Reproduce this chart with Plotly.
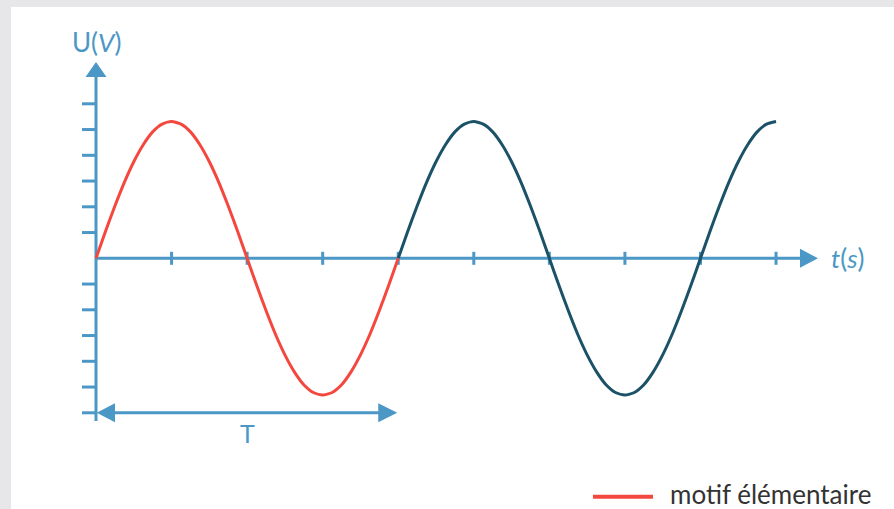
import plotly.graph_objects as go

# ---- data (t and U in tick units) ----
t_motif = [0, 0.125, 0.25, 0.375, 0.5, 0.625, 0.75, 0.875, 1, 1.125, 1.25, 1.375, 1.5, 1.625, 1.75, 1.875,
           2, 2.125, 2.25, 2.375, 2.5, 2.625, 2.75, 2.875, 3, 3.125, 3.25, 3.375, 3.5, 3.625, 3.75, 3.875, 4]
u_motif = [0, 1.04, 2.03, 2.95, 3.75, 4.41, 4.91, 5.21, 5.31, 5.21, 4.91, 4.41, 3.75, 2.95, 2.03, 1.04,
           0, -1.04, -2.03, -2.95, -3.75, -4.41, -4.91, -5.21, -5.31, -5.21, -4.91, -4.41, -3.75, -2.95, -2.03, -1.04, 0]
t_rest = [4, 4.125, 4.25, 4.375, 4.5, 4.625, 4.75, 4.875, 5, 5.125, 5.25, 5.375, 5.5, 5.625, 5.75, 5.875,
          6, 6.125, 6.25, 6.375, 6.5, 6.625, 6.75, 6.875, 7, 7.125, 7.25, 7.375, 7.5, 7.625, 7.75, 7.875,
          8, 8.125, 8.25, 8.375, 8.5, 8.625, 8.75, 8.875, 9]
u_rest = [0, 1.04, 2.03, 2.95, 3.75, 4.41, 4.91, 5.21, 5.31, 5.21, 4.91, 4.41, 3.75, 2.95, 2.03, 1.04,
          0, -1.04, -2.03, -2.95, -3.75, -4.41, -4.91, -5.21, -5.31, -5.21, -4.91, -4.41, -3.75, -2.95, -2.03, -1.04,
          0, 1.04, 2.03, 2.95, 3.75, 4.41, 4.91, 5.21, 5.31]
x_ticks = [1, 2, 3, 4, 5, 6, 7, 8, 9]
y_ticks = [-6, -5, -4, -3, -2, -1, 1, 2, 3, 4, 5, 6]
period = 4
legend_label = "motif élémentaire"

W, H = 894, 509
PX_T = 75.56   # px per t unit
PX_U = 25.75   # px per u unit
X0, Y0 = 96, 258.3  # pixel origin
x_range = [-X0 / PX_T, (W - X0) / PX_T]
y_range = [(Y0 - H) / PX_U, Y0 / PX_U]

def tx(px):
    return px / PX_T

def uy(px):
    return px / PX_U

AXIS = "#4b97c5"
RED = "#f4483f"
TEAL = "#1b5267"
FONT = "Lato"

fig = go.Figure()
fig.add_trace(go.Scatter(x=t_rest, y=u_rest, mode="lines",
                         line=dict(color=TEAL, width=3, shape="spline", smoothing=0.6),
                         showlegend=False, hoverinfo="skip"))
fig.add_trace(go.Scatter(x=t_motif, y=u_motif, mode="lines",
                         line=dict(color=RED, width=3, shape="spline", smoothing=0.6),
                         name=legend_label, showlegend=False, hoverinfo="skip"))

shapes = []
# background panel
shapes.append(dict(type="rect", xref="paper", yref="paper", x0=11 / W, x1=1.01, y0=-0.01, y1=1 - 7 / H,
                   fillcolor="white", line=dict(width=0), layer="below"))
# y axis
y_top_base = uy(Y0 - 77)
y_tip = uy(Y0 - 62)
y_bottom = -uy(421 - Y0)
shapes.append(dict(type="line", x0=0, x1=0, y0=y_bottom, y1=y_top_base, line=dict(color=AXIS, width=3), layer="below"))
shapes.append(dict(type="path", path=f"M {-tx(10.5)},{y_top_base} L 0,{y_tip} L {tx(10.5)},{y_top_base} Z",
                   fillcolor=AXIS, line=dict(width=0), layer="below"))
# x axis
x_base = tx(800 - X0)
x_tip = tx(818 - X0)
shapes.append(dict(type="line", x0=0, x1=x_base, y0=0, y1=0, line=dict(color=AXIS, width=3), layer="below"))
shapes.append(dict(type="path", path=f"M {x_base},{uy(9.5)} L {x_tip},0 L {x_base},{-uy(9.5)} Z",
                   fillcolor=AXIS, line=dict(width=0), layer="below"))
# ticks
for v in y_ticks:
    shapes.append(dict(type="line", x0=-tx(14), x1=0, y0=v, y1=v, line=dict(color=AXIS, width=3), layer="below"))
for v in x_ticks:
    shapes.append(dict(type="line", x0=v, x1=v, y0=-uy(6.5), y1=uy(6.5), line=dict(color=AXIS, width=3), layer="below"))
# period arrow
yT = -6
shapes.append(dict(type="line", x0=tx(8), x1=period - tx(8), y0=yT, y1=yT, line=dict(color=AXIS, width=3), layer="below"))
shapes.append(dict(type="path", path=f"M {tx(0.7)},{yT} L {tx(19)},{yT + uy(9.5)} L {tx(19)},{yT - uy(9.5)} Z",
                   fillcolor=AXIS, line=dict(width=0), layer="below"))
shapes.append(dict(type="path",
                   path=f"M {period - tx(1)},{yT} L {period - tx(20)},{yT + uy(9.5)} L {period - tx(20)},{yT - uy(9.5)} Z",
                   fillcolor=AXIS, line=dict(width=0), layer="below"))
# legend sample line
leg_y = uy(Y0 - 496.7)
shapes.append(dict(type="line", x0=tx(593 - X0), x1=tx(653 - X0), y0=leg_y, y1=leg_y,
                   line=dict(color=RED, width=4)))

annotations = [
    dict(x=0, y=uy(Y0 - 42), text="U(<i>V</i>)", showarrow=False, font=dict(family=FONT, size=26, color=AXIS),
         xanchor="center", yanchor="middle"),
    dict(x=tx(829 - X0), y=0, text="<i>t</i>(<i>s</i>)", showarrow=False, font=dict(family=FONT, size=26, color=AXIS),
         xanchor="left", yanchor="middle"),
    dict(x=period / 2, y=yT - uy(20), text="T", showarrow=False, font=dict(family=FONT, size=25, color=AXIS),
         xanchor="center", yanchor="middle"),
    dict(x=tx(668 - X0), y=uy(Y0 - 494), text=legend_label, showarrow=False,
         font=dict(family=FONT, size=26, color="#333333"), xanchor="left", yanchor="middle"),
]

fig.update_layout(
    width=W, height=H,
    margin=dict(l=0, r=0, t=0, b=0),
    paper_bgcolor="#e7e7e9",
    plot_bgcolor="rgba(0,0,0,0)",
    xaxis=dict(range=x_range, visible=False, fixedrange=True),
    yaxis=dict(range=y_range, visible=False, fixedrange=True),
    shapes=shapes,
    annotations=annotations,
    showlegend=False,
)

fig.write_html("out.html", config={"displayModeBar": False},
               post_script="document.body.style.margin='0';")
